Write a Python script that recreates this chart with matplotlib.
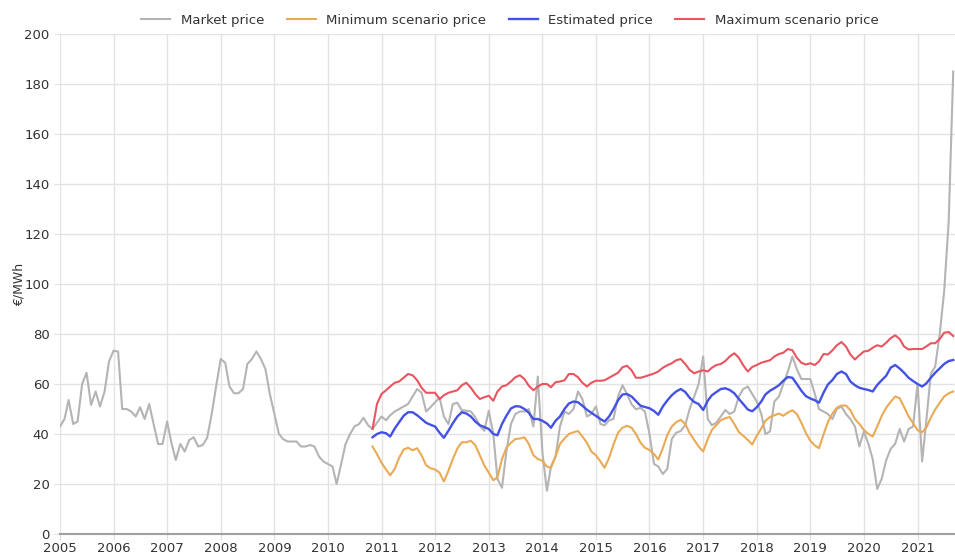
import numpy as np
import pandas as pd
import matplotlib

matplotlib.use('Agg')

import matplotlib.pyplot as plt
import matplotlib.dates as mdates

# monthly values, EUR/MWh
market = [
    43, 46, 53.6, 44, 45, 60, 64.5, 51.6, 57, 51, 57, 69,           # 2005
    73.3, 73, 50, 50, 49, 47, 50.7, 46, 52, 44, 36, 36,             # 2006
    45, 36, 29.6, 36, 33, 37.6, 38.7, 35, 35.6, 38.5, 48, 59,       # 2007
    70, 68.5, 59, 56.3, 56.3, 58, 68, 70, 73, 70, 66, 56,           # 2008
    48, 40, 38, 37, 37, 37, 35, 35, 35.6, 35, 31, 29,               # 2009
    28, 27, 20, 28, 36, 40, 43, 44, 46.5, 43.5, 42, 44.5,           # 2010
    47, 45.5, 47.5, 49, 50, 51, 52, 55, 58, 56.5, 49, 50.7,         # 2011
    52.7, 54.5, 47, 44, 52, 52.5, 49.5, 49.3, 49, 46.7, 43.3, 41.3, # 2012
    49.3, 40, 22, 18.5, 33, 44, 48, 49, 49, 50, 43, 63,             # 2013
    33, 17.3, 27, 31, 43, 49, 48, 50, 57, 54, 47, 48,               # 2014
    51, 44, 43.5, 45.5, 46, 55, 59.5, 56, 51.9, 49.9, 50.5, 49,     # 2015
    40, 28, 27, 24, 26, 38, 40.5, 41.2, 43.6, 50, 55, 60,           # 2016
    71, 46, 43.5, 44.5, 47, 49.6, 48, 49, 55, 58, 59, 56,           # 2017
    53, 48, 40, 41, 53, 55, 60, 65, 71, 66, 62, 62,                 # 2018
    62, 56, 50, 49, 48, 46, 50, 51, 48, 46, 43, 35,                 # 2019
    41, 36, 30, 18, 22, 29.5, 34, 36, 42, 37, 42, 43,               # 2020
    60, 29, 45, 64, 67, 80, 97, 125, 185,                           # 2021
]

# scenario series start in November 2010
max_scenario = [
    42, 52,
    56, 57.5, 59, 60.5, 61, 62.5, 64, 63.5, 61.5, 58.5, 56.5, 56.5,
    56.5, 54, 55.5, 56.5, 57, 57.5, 59.5, 60.5, 58.5, 56, 54, 54.7,
    55.3, 53.3, 57, 59, 59.5, 61, 62.7, 63.5, 62, 59.3, 57.5, 59,
    60, 60, 58.7, 60.7, 61, 61.5, 64, 64, 62.7, 60.5, 59, 60.5,
    61.3, 61.3, 61.5, 62.5, 63.5, 64.5, 66.7, 67.3, 65.5, 62.5, 62.5, 63,
    63.6, 64.2, 65, 66.5, 67.5, 68.3, 69.5, 70, 68, 65.6, 64.3, 65,
    65.5, 65, 66.5, 67.6, 68, 69.2, 71, 72.3, 70.5, 67.5, 65, 66.8,
    67.6, 68.5, 69, 69.5, 71, 72, 72.5, 74, 73.5, 70.5, 68.5, 67.8,
    68.3, 67.6, 69, 72, 71.8, 73.5, 75.5, 76.8, 75, 71.8, 69.8, 71.5,
    73, 73.3, 74.5, 75.5, 75, 76.5, 78.3, 79.5, 78, 75, 73.8, 74,
    74, 74, 75, 76.3, 76.3, 78, 80.5, 80.8, 79.2,
]
estimated = [
    38.7, 40,
    40.7, 40.3, 39, 42.2, 44.7, 47.3, 48.7, 48.7, 47.5, 46, 44.5, 43.7,
    43, 40.5, 38.5, 41.3, 44.3, 47, 48.7, 48.2, 47, 45, 43.5, 42.8,
    42, 40, 39.5, 44, 47.3, 50.2, 51.1, 51, 50, 48.5, 46, 46,
    45.3, 44.2, 42.5, 45.3, 47, 50, 52.2, 53, 52.7, 51.3, 49.7, 48.5,
    47.3, 46, 45, 47, 50, 53.5, 55.8, 56, 55, 53.2, 51.3, 50.8,
    50.3, 49.2, 47.7, 51, 53.4, 55.5, 57, 58, 56.8, 54.5, 52.8, 52,
    49.6, 53.3, 55.5, 56.8, 58, 58.3, 57.6, 56.3, 54, 52, 49.8, 49.1,
    50.7, 53, 55.8, 57.3, 58.3, 59.5, 61.3, 62.8, 62.5, 60, 57.3, 55.2,
    54.2, 53.5, 52.5, 56.5, 59.8, 61.6, 64, 65, 64, 61, 59.5, 58.5,
    58, 57.6, 57, 59.6, 61.5, 63.3, 66.5, 67.6, 66.2, 64.5, 62.5, 61.2,
    60, 59, 60.2, 62.5, 64.5, 66.3, 68, 69.2, 69.6,
]
min_scenario = [
    35, 32,
    28.5, 25.8, 23.5, 26, 30.5, 33.8, 34.5, 33.5, 34.3, 31.5, 27.5, 26.3,
    25.8, 24.5, 21, 25.3, 30, 34.2, 36.7, 36.7, 37.3, 35.5, 31.5, 27.5,
    24.5, 21.5, 22.7, 30, 34.5, 36.5, 38, 38.2, 38.7, 36, 31.5, 30,
    29.3, 27, 26.5, 31, 36, 38.2, 40, 40.7, 41.2, 39, 36.5, 33,
    31.5, 29, 26.5, 30.5, 35.8, 40.5, 42.5, 43.3, 42.5, 40, 36.5, 34.5,
    33.6, 32, 29.8, 34.3, 39.5, 43, 44.7, 45.7, 44, 40.3, 37.6, 35,
    33, 38, 41.6, 43.6, 45.5, 46.3, 46.8, 44, 40.8, 39.3, 37.6, 35.8,
    39.3, 42.2, 45.3, 46.8, 47.5, 48.2, 47.3, 48.6, 49.5, 48, 44.5, 40.5,
    37.3, 35.4, 34.3, 39.8, 44.8, 48.2, 50.5, 51.4, 51.4, 49.5, 46, 44,
    41.6, 40, 39, 43, 47.2, 50.5, 52.8, 55, 54.3, 50.8, 47, 44.4,
    41.5, 40.7, 42.5, 46.5, 49.8, 52.5, 55, 56.3, 57,
]

market_dates = pd.date_range('2005-01-01', periods=len(market), freq='MS')
scen_dates = pd.date_range('2010-11-01', periods=len(estimated), freq='MS')

fig = plt.figure(figsize=(9.55, 5.54), dpi=100)
ax = fig.add_axes([0.0628, 0.0361, 0.9372, 0.9025])

ax.plot(market_dates, market, color='#b4b4b4', lw=1.5, label='Market price')
ax.plot(scen_dates, min_scenario, color='#eaaa55', lw=1.5, label='Minimum scenario price')
ax.plot(scen_dates, estimated, color='#4352e4', lw=1.7, label='Estimated price')
ax.plot(scen_dates, max_scenario, color='#e85560', lw=1.5, label='Maximum scenario price')

ax.set_ylim(0, 200)
ax.set_yticks(np.arange(0, 201, 20))
ax.set_xlim(pd.Timestamp('2005-01-01'), pd.Timestamp('2021-09-13'))
ax.xaxis.set_major_locator(mdates.YearLocator())
ax.xaxis.set_major_formatter(mdates.DateFormatter('%Y'))

ax.grid(True, color='#e3e3e3', lw=1)
ax.set_axisbelow(True)
for s in ['top', 'right', 'left']:
    ax.spines[s].set_visible(False)
ax.spines['bottom'].set_color('#a0a0a0')
ax.spines['bottom'].set_linewidth(1.5)
ax.tick_params(axis='both', colors='#e0e0e0', labelcolor='#333333', labelsize=9.5, length=4)
ax.tick_params(axis='x', pad=2)
ax.set_ylabel('€/MWh', color='#333333', fontsize=9)
ax.yaxis.set_label_coords(-0.038, 0.5)

fig.legend(loc='center', ncol=4, bbox_to_anchor=(0.534, 0.963), frameon=False,
           fontsize=9.5, handlelength=2.2, columnspacing=1.7, labelcolor='#333333')

plt.savefig('out.png', dpi=100)
